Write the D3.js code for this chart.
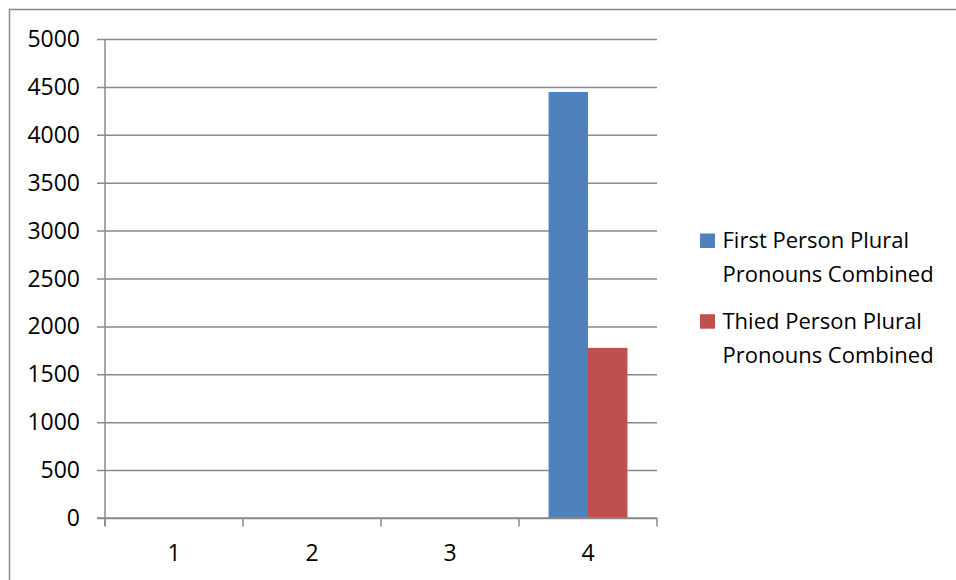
<!DOCTYPE html>
<html>
<head>
<meta charset="utf-8">
<script src="https://cdn.jsdelivr.net/npm/d3@7"></script>
<style>
  html, body { margin: 0; padding: 0; background: #fff; }
  svg { display: block; }
  text { font-family: "Open Sans", Lato, sans-serif; fill: #000; }
</style>
</head>
<body>
<svg id="chart" width="956" height="580"></svg>
<script>
// Pronoun counts per group
const categories = ["1", "2", "3", "4"];
const seriesNames = ["First Person Plural Pronouns Combined", "Thied Person Plural Pronouns Combined"];
const legendLines = [["First Person Plural", "Pronouns Combined"], ["Thied Person Plural", "Pronouns Combined"]];
const firstPlural = [0, 0, 0, 4447];
const thirdPlural = [0, 0, 0, 1776];
const yTicks = [0, 500, 1000, 1500, 2000, 2500, 3000, 3500, 4000, 4500, 5000];
const colors = ["#4F81BD", "#C0504D"];

const svg = d3.select("#chart");
const gridColor = "#8a8a8a";

// outer chart frame
svg.append("rect")
  .attr("x", 9.5).attr("y", 9.5)
  .attr("width", 1000).attr("height", 1000)
  .attr("fill", "none").attr("stroke", gridColor).attr("stroke-width", 1.5);

const plot = { left: 105, right: 657, top: 39, bottom: 518 };

const x = d3.scaleBand().domain(categories).range([plot.left, plot.right]);
const y = d3.scaleLinear().domain([0, 5000]).range([plot.bottom, plot.top]);

// Excel-like clustered bars: gap width 150%
const barW = x.bandwidth() / 3.5;
const x1 = d3.scaleBand().domain(seriesNames).range([0, barW * 2]);

// horizontal gridlines with outward ticks
const yAxis = d3.axisLeft(y).tickValues(yTicks).tickSize(-(plot.right - plot.left)).tickSizeOuter(0).tickPadding(0).tickFormat(() => "");
const gy = svg.append("g").attr("transform", `translate(${plot.left},0)`).call(yAxis);
gy.select(".domain").remove();
gy.selectAll(".tick line").attr("stroke", gridColor).attr("stroke-width", 1.5)
  .attr("x1", -8);

// y tick labels
svg.append("g").selectAll("text").data(yTicks).join("text")
  .attr("x", 80).attr("y", d => y(d) + 8)
  .attr("text-anchor", "end")
  .style("font-size", "23px")
  .text(d => d);

// y axis line
svg.append("line")
  .attr("x1", plot.left).attr("x2", plot.left)
  .attr("y1", plot.top).attr("y2", plot.bottom + 8)
  .attr("stroke", gridColor).attr("stroke-width", 1.5);

// bars
const rows = categories.map((c, i) => ({ c, vals: [firstPlural[i], thirdPlural[i]] }));
svg.append("g").selectAll("g").data(rows).join("g")
  .attr("transform", d => `translate(${x(d.c) + (x.bandwidth() - barW * 2) / 2},0)`)
  .selectAll("rect").data(d => d.vals.map((v, k) => ({ v, k })))
  .join("rect")
  .attr("x", d => x1(seriesNames[d.k]))
  .attr("width", x1.bandwidth())
  .attr("y", d => y(d.v))
  .attr("height", d => y(0) - y(d.v))
  .attr("fill", d => colors[d.k]);

// x axis with category boundary ticks
const xAxis = d3.axisBottom(x).tickSize(0).tickFormat(() => "");
const gx = svg.append("g").attr("transform", `translate(0,${plot.bottom})`).call(xAxis);
gx.select(".domain").remove();
svg.append("line")
  .attr("x1", plot.left - 8).attr("x2", plot.right)
  .attr("y1", plot.bottom).attr("y2", plot.bottom)
  .attr("stroke", gridColor).attr("stroke-width", 1.5);
const bounds = categories.map(c => x(c)).concat([x(categories[categories.length - 1]) + x.bandwidth()]);
svg.append("g").selectAll("line").data(bounds).join("line")
  .attr("x1", d => d).attr("x2", d => d)
  .attr("y1", plot.bottom).attr("y2", plot.bottom + 8.5)
  .attr("stroke", gridColor).attr("stroke-width", 1.5);
svg.append("g").selectAll("text").data(categories).join("text")
  .attr("x", d => x(d) + x.bandwidth() / 2)
  .attr("y", plot.bottom + 43)
  .attr("text-anchor", "middle")
  .style("font-size", "23px")
  .text(d => d);

// legend
const legend = svg.append("g");
const entry = legend.selectAll("g").data(seriesNames).join("g")
  .attr("transform", (d, i) => `translate(700,${233.5 + i * 80.7})`);
entry.append("rect").attr("width", 15).attr("height", 14.5).attr("fill", (d, i) => colors[i]);
entry.each(function (d, i) {
  d3.select(this).selectAll("text").data(legendLines[i]).join("text")
    .attr("x", 22.5)
    .attr("y", (t, j) => 14.5 + j * 34)
    .style("font-size", "22px")
    .text(t => t);
});
</script>
</body>
</html>
